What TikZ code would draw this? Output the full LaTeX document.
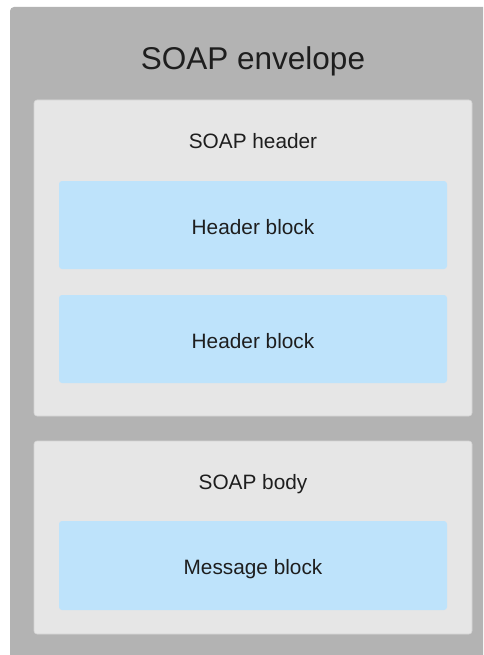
\documentclass[tikz,border=0pt]{standalone}
\usepackage{fontspec}
\setmainfont{Liberation Sans}
\definecolor{envgray}{HTML}{B3B3B3}
\definecolor{secgray}{HTML}{E6E6E6}
\definecolor{secedge}{HTML}{D4D4D4}
\definecolor{blockblue}{HTML}{BEE3FB}
\definecolor{txt}{HTML}{1E1E1E}
\tikzset{
  envbox/.style={fill=envgray, rounded corners=4pt},
  secbox/.style={fill=secgray, draw=secedge, line width=0.6pt, rounded corners=3pt},
  blockbox/.style={fill=blockblue, rounded corners=3pt},
  bigtxt/.style={anchor=base, text=txt, font=\fontsize{31.5}{36}\selectfont, inner sep=0pt},
  lbltxt/.style={anchor=base, text=txt, font=\fontsize{20.8}{24}\selectfont, inner sep=0pt}
}
\begin{document}
\begin{tikzpicture}[x=1pt,y=-1pt]
\useasboundingbox (0,0) rectangle (483,655);
\begin{scope}
\clip (0,0) rectangle (483,655);
\path[envbox] (10,7) rectangle (495,670);
\end{scope}
\path[secbox] (34,100) rectangle (472,416);
\path[secbox] (34,441) rectangle (472,634);
\path[blockbox] (59,181) rectangle (447,269);
\path[blockbox] (59,295) rectangle (447,383);
\path[blockbox] (59,521) rectangle (447,610);
\node[bigtxt] (title) at (253,70) {SOAP envelope};
\node[lbltxt] (hdr) at (253,149) {SOAP header};
\node[lbltxt] (hb1) at (253,234) {Header block};
\node[lbltxt] (hb2) at (253,348) {Header block};
\node[lbltxt] (body) at (253,489) {SOAP body};
\node[lbltxt] (msg) at (253,574) {Message block};
\end{tikzpicture}
\end{document}
